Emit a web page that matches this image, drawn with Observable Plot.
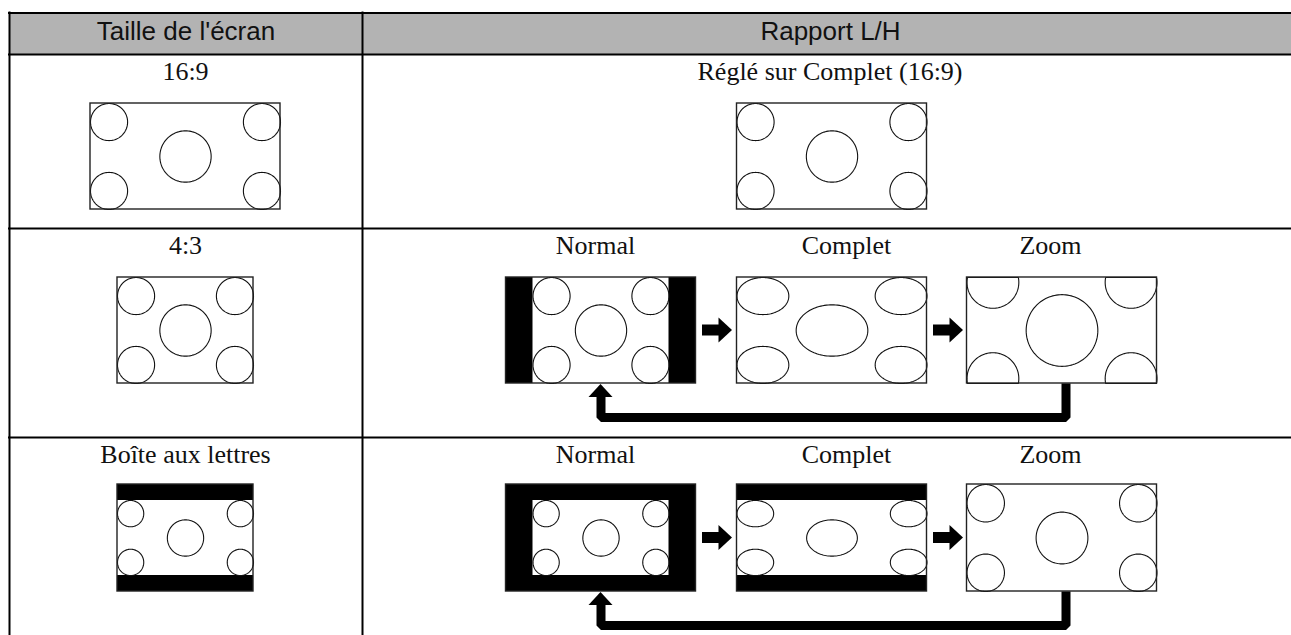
<!DOCTYPE html>
<html><head><meta charset="utf-8">
<script src="https://cdn.jsdelivr.net/npm/d3@7"></script>
<script src="https://cdn.jsdelivr.net/npm/@observablehq/plot@0.6"></script>
<style>html,body{margin:0;padding:0;background:#fff;overflow:hidden;} #chart svg{display:block;}</style>
</head><body><div id="chart"></div>
<script>
// ---- content (text and categories) ----
const headers = ["Taille de l'écran", "Rapport L/H"];
const screenSizes = ["16:9", "4:3", "Boîte aux lettres"];
const modes = ["Normal", "Complet", "Zoom"];
const fixedMode = "Réglé sur Complet (16:9)";
// picture type shown for each source (left column) and for each aspect mode (right column)
const sourceScreens = ["wide", "standard", "letterbox"];
const modeScreens = [
  ["wide"],
  ["standard-normal", "standard-full", "standard-zoom"],
  ["letterbox-normal", "letterbox-full", "letterbox-zoom"]
];

// ---- layout (pixels) ----
const W = 1291, H = 635;
const tableLeft = 9, tableTop = 12.5, colSplit = 362;
const rowLines = [54, 228, 437];
const rowTops = [103, 277, 484];
const rowH = [106, 106, 107];
const leftCx = 185;
const modeCx = [600.5, 831.5, 1061.5];
const singleCx = 831.5;
const WIDE = 190, STD = 136, LBH = 75;
const CORNER = 0.175, MID = 0.242;

function geom(kind, cx, top, h) {
  const g = {
    "wide":            {fw: WIDE, black: false, inner: [WIDE, h], box: [WIDE, h], aspect: WIDE / h},
    "standard":        {fw: STD,  black: false, inner: [STD, h],  box: [STD, h],  aspect: STD / h},
    "letterbox":       {fw: STD,  black: true,  inner: [STD, LBH], box: [STD, LBH], aspect: STD / LBH},
    "standard-normal": {fw: WIDE, black: true,  inner: [STD, h],  box: [STD, h],  aspect: STD / h},
    "standard-full":   {fw: WIDE, black: false, inner: [WIDE, h], box: [WIDE, h], aspect: STD / h},
    "standard-zoom":   {fw: WIDE, black: false, inner: [WIDE, h], box: [WIDE, WIDE * h / STD], aspect: STD / h},
    "letterbox-normal":{fw: WIDE, black: true,  inner: [STD, LBH], box: [STD, LBH], aspect: STD / LBH},
    "letterbox-full":  {fw: WIDE, black: true,  inner: [WIDE, LBH], box: [WIDE, LBH], aspect: STD / LBH},
    "letterbox-zoom":  {fw: WIDE, black: false, inner: [WIDE, h], box: [WIDE, h], aspect: WIDE / h}
  }[kind];
  const cy = top + h / 2;
  return {
    frame: {x1: cx - g.fw / 2, x2: cx + g.fw / 2, y1: top, y2: top + h, fill: g.black ? "black" : "white"},
    inner: {x1: cx - g.inner[0] / 2, x2: cx + g.inner[0] / 2, y1: cy - g.inner[1] / 2, y2: cy + g.inner[1] / 2},
    box: {x1: cx - g.box[0] / 2, x2: cx + g.box[0] / 2, y1: cy - g.box[1] / 2, y2: cy + g.box[1] / 2, w: g.box[0], h: g.box[1]},
    aspect: g.aspect, cx, cy
  };
}

const screens = [];
sourceScreens.forEach((k, i) => screens.push(geom(k, leftCx, rowTops[i], rowH[i])));
modeScreens.forEach((row, i) => row.forEach((k, j) => {
  const cx = row.length === 1 ? singleCx : modeCx[j];
  screens.push(Object.assign(geom(k, cx, rowTops[i], rowH[i]), {row: i, col: j, n: row.length}));
}));

// ellipse outlines of the test picture, clipped to the visible picture area
const outlines = [];
let eid = 0;
function ellipse(cx, cy, rx, ry, clip) {
  const id = eid++;
  for (let i = 0; i <= 120; i++) {
    const t = i / 120 * 2 * Math.PI;
    outlines.push({id,
      x: Math.max(clip.x1, Math.min(clip.x2, cx + rx * Math.cos(t))),
      y: Math.max(clip.y1, Math.min(clip.y2, cy + ry * Math.sin(t)))});
  }
}
screens.forEach(s => {
  const b = s.box, sx = b.w / (s.aspect * b.h);
  const ry = CORNER * b.h, rx = ry * sx;
  const my = MID * b.h, mx = my * sx;
  ellipse(b.x1 + rx, b.y1 + ry, rx, ry, s.inner);
  ellipse(b.x2 - rx, b.y1 + ry, rx, ry, s.inner);
  ellipse(b.x1 + rx, b.y2 - ry, rx, ry, s.inner);
  ellipse(b.x2 - rx, b.y2 - ry, rx, ry, s.inner);
  ellipse(s.cx, s.cy, mx, my, s.inner);
});

// right arrows between mode screens
const shafts = [], heads = [], loops = [], upHeads = [];
let aid = 0;
[1, 2].forEach(r => {
  const row = screens.filter(s => s.row === r);
  for (let j = 0; j < 2; j++) {
    const x0 = row[j].frame.x2 + 6.5, cy = row[j].cy;
    shafts.push({x1: x0, x2: x0 + 17, y1: cy - 5.5, y2: cy + 5.5});
    heads.push({id: aid, x: x0 + 16.5, y1: cy - 12.5, y2: cy + 12.5});
    heads.push({id: aid++, x: x0 + 30, y1: cy, y2: cy});
  }
  const n = row[0], z = row[2];
  const bottom = n.frame.y2, yb = bottom + 34;
  const xz = z.cx + 4, xn = n.cx;
  [[xz, z.frame.y2], [xz, yb], [xn, yb], [xn, bottom + 13.5]].forEach(([x, y]) => loops.push({id: r, x, y}));
  upHeads.push({id: r, y: bottom + 14, x1: xn - 12, x2: xn + 12});
  upHeads.push({id: r, y: bottom + 1, x1: xn, x2: xn});
});

// texts
const texts = [];
screenSizes.forEach((t, i) => texts.push({x: leftCx, y: rowLines[i] + 25, text: t}));
texts.push({x: singleCx - 2, y: rowLines[0] + 25, text: fixedMode});
const labelX = [595, 846, 1050];
[1, 2].forEach(i => modes.forEach((m, j) => texts.push({x: labelX[j], y: rowLines[i] + 25, text: m})));
const headerTexts = [{x: (tableLeft + colSplit) / 2, text: headers[0]}, {x: 830, text: headers[1]}];

const chart = Plot.plot({
  width: W, height: H, margin: 0,
  x: {type: "linear", domain: [0, W], range: [0, W], axis: null},
  y: {type: "linear", domain: [0, H], range: [0, H], axis: null},
  style: {background: "white"},
  marks: [
    Plot.rect([{x1: tableLeft, x2: W, y1: tableTop, y2: rowLines[0]}], {x1: "x1", x2: "x2", y1: "y1", y2: "y2", fill: "#b3b3b3"}),
    Plot.rect(screens.map(s => s.frame), {x1: "x1", x2: "x2", y1: "y1", y2: "y2", fill: "fill"}),
    Plot.rect(screens.map(s => s.inner), {x1: "x1", x2: "x2", y1: "y1", y2: "y2", fill: "white"}),
    Plot.line(outlines, {x: "x", y: "y", z: "id", stroke: "#111", strokeWidth: 1.1, curve: "linear"}),
    Plot.rect(screens.map(s => s.frame), {x1: "x1", x2: "x2", y1: "y1", y2: "y2", fill: "none", stroke: "#222", strokeWidth: 1.4}),
    Plot.rect(shafts, {x1: "x1", x2: "x2", y1: "y1", y2: "y2", fill: "black"}),
    Plot.area(heads, {x1: "x", y1: "y1", y2: "y2", z: "id", fill: "black", curve: "linear"}),
    Plot.line(loops, {x: "x", y: "y", z: "id", stroke: "black", strokeWidth: 9, strokeLinejoin: "miter", strokeLinecap: "butt", curve: "linear"}),
    Plot.area(upHeads, {y1: "y", x1: "x1", x2: "x2", z: "id", fill: "black", curve: "linear"}),
    Plot.ruleY([tableTop, ...rowLines], {y: d => d, x1: tableLeft - 1, x2: W, stroke: "black", strokeWidth: 2}),
    Plot.ruleX([tableLeft, colSplit], {x: d => d, y1: tableTop - 1, y2: H, stroke: "black", strokeWidth: 2}),
    Plot.text(headerTexts, {x: "x", y: () => 39, text: "text", fontFamily: "Liberation Sans, Arial, sans-serif", fontSize: 26, fill: "#111", textAnchor: "middle", lineAnchor: "bottom"}),
    Plot.text(texts, {x: "x", y: "y", text: "text", fontFamily: "Liberation Serif, Times New Roman, serif", fontSize: 26, fill: "#111", textAnchor: "middle", lineAnchor: "bottom"})
  ]
});
document.getElementById("chart").appendChild(chart);
</script>
</body></html>
